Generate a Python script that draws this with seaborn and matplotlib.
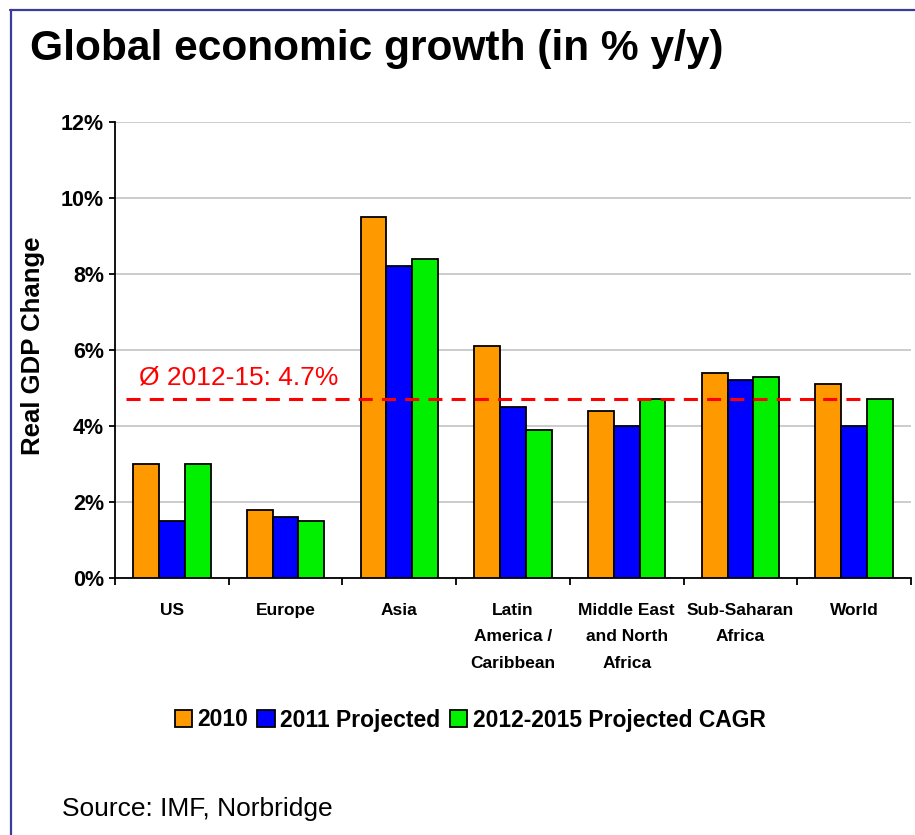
import numpy as np
import pandas as pd
import matplotlib
matplotlib.use("Agg")
import matplotlib.pyplot as plt
from matplotlib.lines import Line2D
import seaborn as sns

# ---- data ----
regions = ["US", "Europe", "Asia", "Latin\nAmerica /\nCaribbean",
           "Middle East\nand North\nAfrica", "Sub-Saharan\nAfrica", "World"]
series = ["2010", "2011 Projected", "2012-2015 Projected CAGR"]
v2010 = [3.0, 1.8, 9.5, 6.1, 4.4, 5.4, 5.1]
v2011 = [1.5, 1.6, 8.2, 4.5, 4.0, 5.2, 4.0]
v2012_15 = [3.0, 1.5, 8.4, 3.9, 4.7, 5.3, 4.7]
avg_2012_15 = 4.7
yticks = [0, 2, 4, 6, 8, 10, 12]
ytick_labels = ["0%", "2%", "4%", "6%", "8%", "10%", "12%"]

colors = ["#FF9900", "#0000FF", "#00F000"]

df = pd.DataFrame({
    "region": regions * 3,
    "series": [series[0]] * 7 + [series[1]] * 7 + [series[2]] * 7,
    "value": v2010 + v2011 + v2012_15,
})

sns.set_theme(style="white")
plt.rcParams["font.family"] = ["Liberation Sans", "DejaVu Sans"]
plt.rcParams["text.color"] = "black"
plt.rcParams["xtick.color"] = "black"
plt.rcParams["ytick.color"] = "black"
plt.rcParams["axes.labelcolor"] = "black"

fig = plt.figure(figsize=(9.15, 8.35), dpi=100)
ax = fig.add_axes([115 / 915, 1 - 578 / 835, (911 - 115) / 915, (578 - 122) / 835])

sns.barplot(data=df, x="region", y="value", hue="series", order=regions,
            hue_order=series, palette=colors, width=0.68, edgecolor="black",
            linewidth=1.3, saturation=1, ax=ax, zorder=3)

ax.set_xlim(-0.5, len(regions) - 0.5)
ax.set_ylim(0, 12)
ax.set_yticks(yticks)
ax.set_yticklabels(ytick_labels, fontsize=15.5, fontweight="bold")
ax.grid(axis="y", color="#c8c8c8", lw=1.3, zorder=0)
ax.set_axisbelow(True)

ax.set_xticks(np.arange(len(regions)))
ax.set_xticklabels(regions, fontsize=12.5, fontweight="bold", linespacing=1.95,
                   va="top")
ax.set_xticks(np.arange(-0.5, len(regions), 1), minor=True)
ax.tick_params(axis="x", which="major", length=0, pad=18)
ax.tick_params(axis="x", which="minor", length=5, width=1.3, color="black",
               direction="out", bottom=True)
ax.tick_params(axis="y", length=4, width=1.3, color="black", direction="out",
               left=True, pad=4)
ax.set_xlabel("")
ax.set_ylabel("")

for s in ["top", "right"]:
    ax.spines[s].set_visible(False)
for s in ["left", "bottom"]:
    ax.spines[s].set_color("black")
    ax.spines[s].set_linewidth(1.3)

# average line
ax.plot([-0.40, 6.08], [avg_2012_15, avg_2012_15], color="#FF0000", lw=2.2,
        linestyle=(0, (4.6, 3.0)), zorder=5)
ax.text(-0.29, 5.08, f"Ø 2012-15: {avg_2012_15}%", color="#FF0000",
        fontsize=19, ha="left", va="baseline", zorder=6)

# legend
handles, labels = ax.get_legend_handles_labels()
ax.legend(handles, labels, loc="center", bbox_to_anchor=(470 / 915, 1 - 720 / 835),
          bbox_transform=fig.transFigure, ncol=3, frameon=False,
          prop={"weight": "bold", "size": 16.5}, handlelength=0.75,
          handleheight=0.75, handletextpad=0.25, columnspacing=0.4,
          borderaxespad=0)

# y label
fig.text(33 / 915, 1 - 346 / 835, "Real GDP Change", rotation=90,
         ha="center", va="center", fontsize=18.5, fontweight="bold")

# title
fig.text(30 / 915, 1 - 60 / 835, "Global economic growth (in % y/y)",
         ha="left", va="baseline", fontsize=30.6, fontweight="bold")

# source
fig.text(62 / 915, 1 - 816 / 835, "Source: IMF, Norbridge",
         ha="left", va="baseline", fontsize=19)

# frame border
bc = "#3b3b99"
fig.add_artist(Line2D([10 / 915, 1.0], [1 - 9.5 / 835, 1 - 9.5 / 835],
                      transform=fig.transFigure, color=bc, lw=1.6))
fig.add_artist(Line2D([11 / 915, 11 / 915], [0, 1 - 9.5 / 835],
                      transform=fig.transFigure, color=bc, lw=1.6))

fig.savefig("out.png", dpi=100)
